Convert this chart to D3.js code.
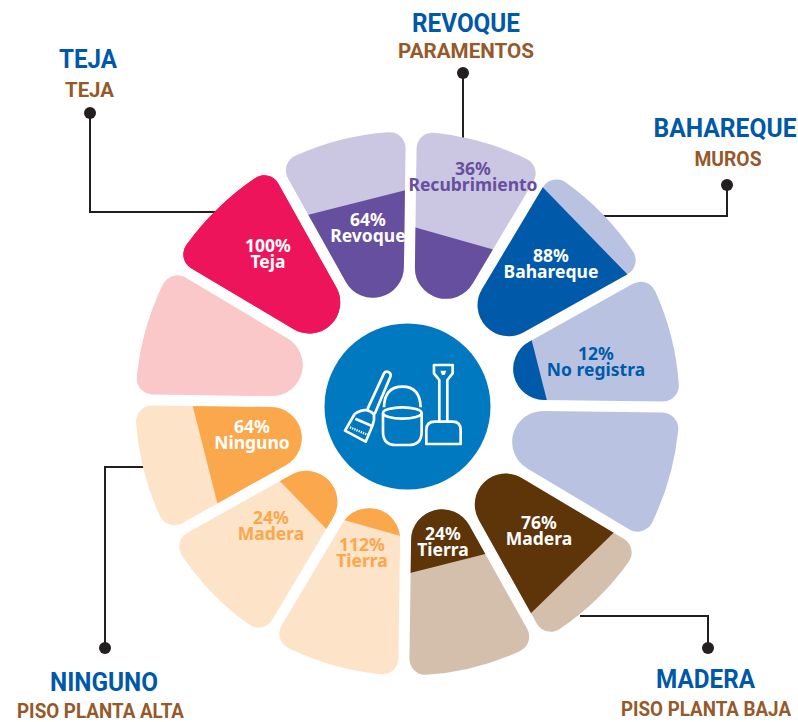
<!DOCTYPE html>
<html>
    <head>
        <title>Materiales de la vivienda</title>
        <script src="https://d3js.org/d3.v7.min.js"></script>
    </head>
    <style>
        body {
            margin: 0;
            background: #fff;
        }
        svg {
            display: block;
        }
        .pct {
            font-family: "Noto Sans", sans-serif;
            font-weight: 700;
            font-size: 17.5px;
            text-anchor: middle;
        }
        .head {
            font-family: Roboto, sans-serif;
            font-weight: 700;
            text-anchor: middle;
        }
    </style>
    <body>
        <div id="chart"></div>

        <script>

            // Twelve wedges, clockwise from the top
            const categories = ["Recubrimiento", "Bahareque", "No registra", "Vacio muros", "Madera baja", "Tierra baja",
                                "Tierra alta", "Madera alta", "Ninguno", "Vacio teja", "Teja", "Revoque"];

            // How far each wedge is filled
            const fillShare = [38, 85, 16, 0, 78, 34, 12, 22, 61, 0, 100, 60];

            // What is printed on each wedge, as printed
            const pctLabels = ["36%", "88%", "12%", "", "76%", "24%", "112%", "24%", "64%", "", "100%", "64%"];
            const nameLabels = ["Recubrimiento", "Bahareque", "No registra", "", "Madera", "Tierra",
                                "Tierra", "Madera", "Ninguno", "", "Teja", "Revoque"];

            const headTitles = ["REVOQUE", "BAHAREQUE", "TEJA", "NINGUNO", "MADERA"];
            const headSubtitles = ["PARAMENTOS", "MUROS", "TEJA", "PISO PLANTA ALTA", "PISO PLANTA BAJA"];

            // Colours per wedge
            const darkColors = ["#674fa0", "#005aa9", "#005aa9", "#005aa9", "#5e3409", "#5e3409",
                                "#fba74b", "#fba74b", "#fba74b", "#ee145b", "#ee145b", "#674fa0"];
            const lightColors = ["#cbc6e1", "#b9c3e1", "#b9c3e1", "#b9c3e1", "#d4bfac", "#d4bfac",
                                 "#fde3c8", "#fde3c8", "#fde3c8", "#fac8c8", "#ee145b", "#cbc6e1"];
            const pctColors = ["#674fa0", "#fff", "#005aa9", "", "#fff", "#fff",
                               "#fba74b", "#fba74b", "#fff", "", "#fff", "#fff"];

            // Layout
            const width = 798, height = 722;
            const cx = 407.5, cy = 403.5, tilt = 0.8;
            const rInner = 110, rOuter = 272, halfGap = 5.5, cornerR = 16;

            const svg = d3.select("#chart")
                        .append("svg")
                        .attr("width", width)
                        .attr("height", height);

            const angle = d3.scaleBand().domain(categories).range([0, 360]);
            const radius = d3.scaleLinear().domain([0, 100]).range([rInner, rOuter]);

            // Outline of one wedge, pointing up from the origin, with a round inner end and soft outer corners
            function wedgePath() {
                const h = angle.bandwidth() / 2 * Math.PI / 180;
                const rho = (rInner * Math.sin(h) - halfGap) / (1 - Math.sin(h));
                const d = rInner + rho;
                const phi = Math.asin((halfGap + cornerR) / (rOuter - cornerR));
                const side = t => [t * Math.sin(h) - halfGap * Math.cos(h), -t * Math.cos(h) - halfGap * Math.sin(h)];
                const inn = side(d * Math.cos(h));
                const out = side((rOuter - cornerR) * Math.cos(phi));
                const ax = rOuter * Math.sin(h - phi), ay = -rOuter * Math.cos(h - phi);
                return `M${-inn[0]},${inn[1]} L${-out[0]},${out[1]}` +
                    ` A${cornerR},${cornerR} 0 0 1 ${-ax},${ay}` +
                    ` A${rOuter},${rOuter} 0 0 1 ${ax},${ay}` +
                    ` A${cornerR},${cornerR} 0 0 1 ${out[0]},${out[1]}` +
                    ` L${inn[0]},${inn[1]}` +
                    ` A${rho},${rho} 0 0 1 ${-inn[0]},${inn[1]} Z`;
            }
            const outline = wedgePath();

            // Leader lines go first so the wedges cover their ends
            const leaders = [
                [[463, 73], [463, 140]],
                [[727, 185], [727, 216], [600, 216]],
                [[90, 113], [90, 212], [225, 212]],
                [[105, 648], [105, 467], [145, 467]],
                [[708, 648], [708, 616], [580, 616]]
            ];
            const leaderLine = d3.line();
            svg.selectAll(".leader")
                .data(leaders)
                .enter()
                .append("path")
                .attr("class", "leader")
                .attr("d", leaderLine)
                .attr("fill", "none")
                .attr("stroke", "#231f20")
                .attr("stroke-width", 2);
            svg.selectAll(".dot")
                .data(leaders)
                .enter()
                .append("circle")
                .attr("class", "dot")
                .attr("cx", d => d[0][0])
                .attr("cy", d => d[0][1])
                .attr("r", 6)
                .attr("fill", "#231f20");

            // Wedges
            const wedges = svg.selectAll(".wedge")
                .data(categories)
                .enter()
                .append("g")
                .attr("class", "wedge")
                .attr("transform", d => `translate(${cx},${cy}) rotate(${angle(d) + angle.bandwidth() / 2 + tilt})`);

            wedges.append("clipPath")
                .attr("id", (d, i) => "level" + i)
                .append("rect")
                .attr("x", -rOuter)
                .attr("width", 2 * rOuter)
                .attr("y", (d, i) => -radius(fillShare[i]))
                .attr("height", (d, i) => radius(fillShare[i]));

            wedges.append("path")
                .attr("d", outline)
                .attr("fill", (d, i) => lightColors[i]);

            wedges.filter((d, i) => fillShare[i] > 0)
                .append("path")
                .attr("d", outline)
                .attr("fill", d => darkColors[categories.indexOf(d)])
                .attr("clip-path", d => `url(#level${categories.indexOf(d)})`);

            // Where the two lines of each wedge label sit: x centre, baseline of the first line
            const labelSpots = [[473, 175], [551, 262], [596, 360], null, [539, 529], [443, 540],
                                [362, 551], [271, 524], [252, 433], null, [268, 252], [368, 226]];
            const lineStep = 16;

            categories.forEach((c, i) => {
                if (!labelSpots[i]) return;
                const t = svg.append("text")
                    .attr("class", "pct")
                    .attr("fill", pctColors[i]);
                t.append("tspan")
                    .attr("x", labelSpots[i][0])
                    .attr("y", labelSpots[i][1])
                    .text(pctLabels[i]);
                t.append("tspan")
                    .attr("x", labelSpots[i][0])
                    .attr("y", labelSpots[i][1] + lineStep)
                    .text(nameLabels[i]);
            });

            // Headings around the wheel: x centre, title baseline, subtitle x centre, subtitle baseline
            const headSpots = [[466, 32, 466, 58], [725, 137, 728, 166], [88, 68, 89.5, 97],
                               [104, 691, 100.5, 718], [705.5, 688, 706, 716]];
            // The original face is narrower than Roboto, so the headings are squeezed to their measured widths
            const titleWidths = [108, 143, 58, 108, 99];
            const subtitleWidths = [136, 67, 49, 167, 170];
            headTitles.forEach((title, i) => {
                svg.append("text")
                    .attr("class", "head")
                    .attr("x", headSpots[i][0])
                    .attr("y", headSpots[i][1])
                    .attr("font-size", 25.5)
                    .attr("fill", "#0058a8")
                    .attr("textLength", titleWidths[i])
                    .attr("lengthAdjust", "spacingAndGlyphs")
                    .text(title);
                svg.append("text")
                    .attr("class", "head")
                    .attr("x", headSpots[i][2])
                    .attr("y", headSpots[i][3])
                    .attr("font-size", 21)
                    .attr("fill", "#95592a")
                    .attr("textLength", subtitleWidths[i])
                    .attr("lengthAdjust", "spacingAndGlyphs")
                    .text(headSubtitles[i]);
            });

            // Middle disc with the icons, drawn in a 3x grid like the crop of the picture
            svg.append("circle")
                .attr("cx", 407.5)
                .attr("cy", 406.5)
                .attr("r", 83)
                .attr("fill", "#0079c1");

            const icon = svg.append("g")
                .attr("transform", "translate(310,320) scale(0.3333)")
                .attr("fill", "none")
                .attr("stroke", "#fff")
                .attr("stroke-width", 8)
                .attr("stroke-linejoin", "round");

            // shovel
            icon.append("path").attr("d", "M388,304 V180 L372,160 V135 H428 V160 L412,180 V304");
            icon.append("path").attr("d", "M349,372 V330 Q349,305 374,305 H428 Q452,305 452,330 V372 Z");
            icon.append("path").attr("d", "M391,152 H409 L404,165 H396 Z").attr("fill", "#fff").attr("stroke", "none");

            // bucket
            icon.append("path").attr("d", "M219,280 V335 Q219,375 258,375 H296 Q335,375 335,335 V280");
            icon.append("ellipse").attr("cx", 277).attr("cy", 279).attr("rx", 58).attr("ry", 17);
            icon.append("path").attr("d", "M222,262 Q224,200 277,200 Q330,200 332,262");

            // broom
            icon.append("path").attr("d", "M172,268 L222,160 A11,11 0 0 1 242,168 L194,282");
            icon.append("path").attr("d", "M134,282 Q170,258 192,284 Q194,300 188,316 L167,365 L105,332 Z");
            icon.append("path").attr("d", "M136,296 L186,318");
            icon.append("path").attr("d", "M120,322 L176,346").attr("stroke-dasharray", "4 3").attr("stroke-width", 7);

        </script>

    </body>
</html>
